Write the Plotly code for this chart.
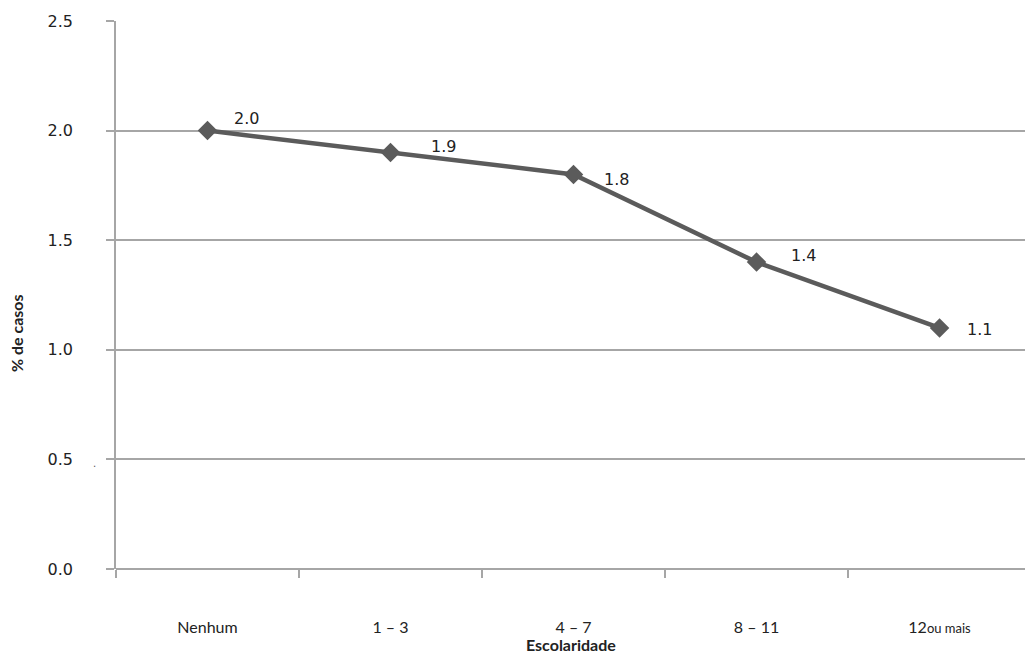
import plotly.graph_objects as go

# Escolaridade (anos de estudo) e percentual de casos
categorias = ["Nenhum", "1 – 3", "4 – 7", "8 – 11", "12<span style='font-size:13px'>ou mais</span>"]
percentual = [2.0, 1.9, 1.8, 1.4, 1.1]
rotulos = ["2.0", "1.9", "1.8", "1.4", "1.1"]
y_ticks = [0.0, 0.5, 1.0, 1.5, 2.0, 2.5]
y_tick_text = ["0.0", "0.5", "1.0", "1.5", "2.0", "2.5"]

# pixel offsets of each value label relative to its marker
label_dx = [24, 38, 28, 32, 25]
label_dy = [12, 6, -5, 7, -2]

line_color = "#5b5b5b"
grid_color = "#a6a6a6"

fig = go.Figure()
fig.add_trace(go.Scatter(
    x=categorias, y=percentual, mode="lines+markers",
    line=dict(color=line_color, width=4.5),
    marker=dict(symbol="diamond", size=15, color=line_color),
    hoverinfo="skip", showlegend=False,
))

for cat, val, txt, dx, dy in zip(categorias, percentual, rotulos, label_dx, label_dy):
    fig.add_annotation(x=cat, y=val, text=txt, showarrow=False,
                       xanchor="left", yanchor="middle", xshift=dx, yshift=dy,
                       font=dict(family="DejaVu Sans", size=16, color="#222222"))

# axis titles
fig.add_annotation(xref="paper", yref="paper", x=0.5, y=-0.137, yanchor="middle",
                   text="<b>Escolaridade</b>", showarrow=False,
                   font=dict(family="Lato", size=16, color="#222222"))
fig.add_annotation(xref="paper", yref="paper", x=-0.11, xanchor="center", y=0.5,
                   yshift=-38, text="<b>% de casos</b>", textangle=-90, showarrow=False,
                   font=dict(family="Lato", size=16, color="#222222"))
fig.add_annotation(xref="paper", yref="y", x=-0.028, y=0.48, text=".", showarrow=False,
                   font=dict(family="DejaVu Sans", size=10, color="#555555"))

fig.update_layout(
    width=1025, height=655,
    margin=dict(l=116, r=0, t=21, b=86),
    paper_bgcolor="white", plot_bgcolor="white",
    xaxis=dict(
        type="category", range=[-0.5, 4.467], tickson="boundaries",
        ticks="outside", ticklen=8, tickcolor=grid_color, tickwidth=1.5,
        showgrid=False, showline=False, zeroline=False,
        ticklabelstandoff=47,
        tickfont=dict(family="Lato", size=16, color="#222222"),
    ),
    yaxis=dict(
        range=[0, 2.5], tickvals=y_ticks, ticktext=y_tick_text,
        ticks="outside", ticklen=8, tickcolor=grid_color, tickwidth=1.5,
        showgrid=True, gridcolor=grid_color, gridwidth=1.5,
        showline=True, linecolor=grid_color, linewidth=1.5,
        zeroline=True, zerolinecolor=grid_color, zerolinewidth=1.5,
        ticklabelstandoff=30,
        tickfont=dict(family="DejaVu Sans", size=16, color="#222222"),
    ),
)

fig.write_html("out.html")
